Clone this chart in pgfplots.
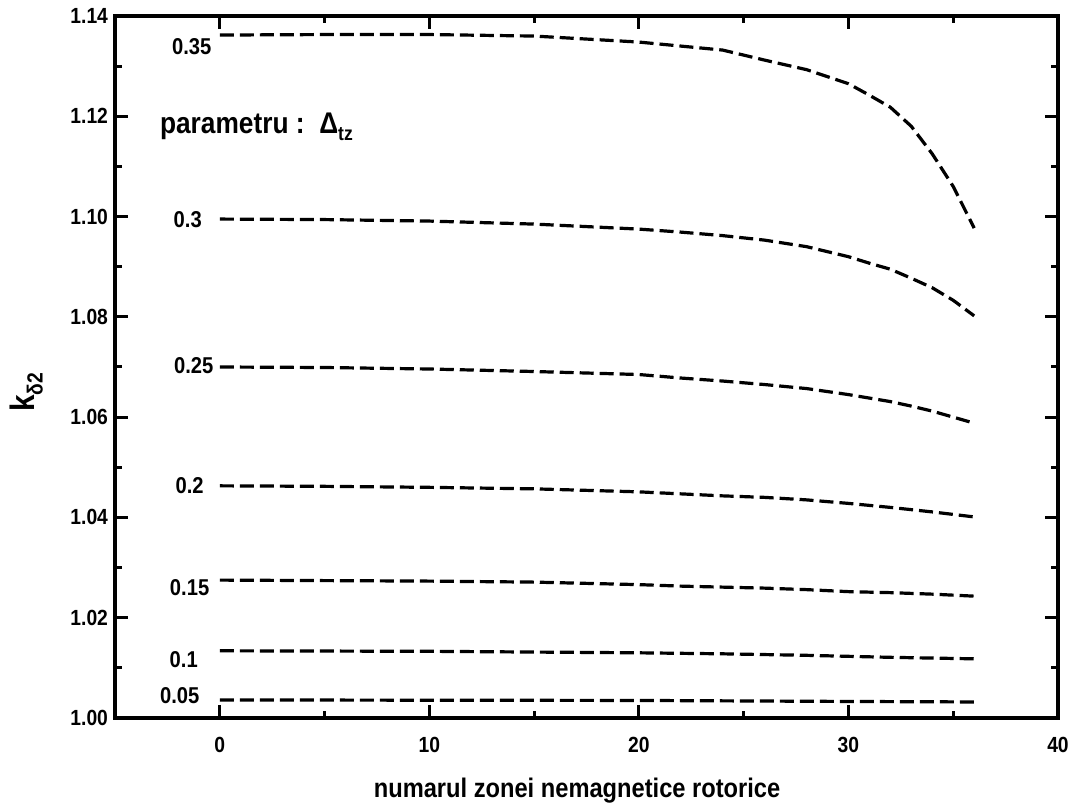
\documentclass[border=0pt]{standalone}
\usepackage{fontspec}
\setmainfont{Liberation Sans}[FakeStretch=0.88]
\usepackage{pgfplots}
\pgfplotsset{compat=1.18}

\begin{document}
\begin{tikzpicture}
\begin{axis}[
  width=471.5bp, height=351bp, scale only axis,
  xmin=-5, xmax=40, ymin=1.00, ymax=1.14,
  xtick={0,10,20,30,40}, minor x tick num=1,
  ytick={1.00,1.02,1.04,1.06,1.08,1.10,1.12,1.14}, minor y tick num=1,
  tick align=inside,
  major tick length=6.5bp, minor tick length=3.5bp,
  axis line style={line width=2bp},
  every tick/.style={line width=1.5bp, black},
  /pgf/number format/assume math mode=true,
  yticklabel style={/pgf/number format/.cd, fixed, fixed zerofill, precision=2},
  xticklabel style={yshift=-6bp},
  ticklabel style={font=\bfseries\fontsize{11}{13}\selectfont},
  clip=false,
  every axis plot post/.append style={black, mark=none, line width=1.6bp,
    dash pattern=on 7bp off 3bp},
]
% parametru 0.35
\addplot coordinates {(0,1.1362) (5,1.1363) (10,1.1363) (15,1.1360) (20,1.1348) (22,1.1340)
 (24,1.1332) (26,1.1312) (28,1.1293) (30,1.1265) (31,1.1242) (32,1.1218) (33,1.1180)
 (34,1.1125) (35,1.1060) (36,1.0977)};
% parametru 0.3
\addplot coordinates {(0,1.0995) (5,1.0994) (10,1.0991) (15,1.0985) (20,1.0975) (22,1.0969)
 (24,1.0962) (26,1.0953) (28,1.0940) (30,1.0920) (31,1.0907) (32,1.0895) (33,1.0877)
 (34,1.0858) (35,1.0833) (36,1.0802)};
% parametru 0.25
\addplot coordinates {(0,1.0700) (5,1.0699) (10,1.0696) (15,1.0691) (20,1.0685) (22,1.0678)
 (24,1.0672) (26,1.0665) (28,1.0657) (30,1.0645) (31,1.0638) (32,1.0631) (33,1.0622)
 (34,1.0612) (35,1.0600) (36,1.0588)};
% parametru 0.2
\addplot coordinates {(0,1.0463) (5,1.0462) (10,1.0460) (15,1.0457) (20,1.0451) (22,1.0447)
 (24,1.0443) (26,1.0440) (28,1.0435) (30,1.0428) (32,1.0420) (34,1.0411) (36,1.0401)};
% parametru 0.15
\addplot coordinates {(0,1.0275) (10,1.0273) (15,1.0271) (20,1.0266) (22,1.0263) (24,1.0261)
 (26,1.0259) (28,1.0256) (30,1.0252) (32,1.0250) (34,1.0247) (36,1.0243)};
% parametru 0.1
\addplot coordinates {(0,1.0134) (10,1.0133) (20,1.0130) (24,1.0128) (28,1.0125) (32,1.0121) (36,1.0118)};
% parametru 0.05
\addplot coordinates {(0,1.0036) (20,1.0035) (30,1.0033) (36,1.0032)};

\begin{scope}[every node/.style={font=\bfseries\fontsize{11.5}{13}\selectfont, inner sep=0pt}]
\node at (axis cs:-1.34,1.1338) {0.35};
\node at (axis cs:-1.53,1.0993) {0.3};
\node at (axis cs:-1.24,1.0702) {0.25};
\node at (axis cs:-1.44,1.0463) {0.2};
\node at (axis cs:-1.44,1.0261) {0.15};
\node at (axis cs:-1.72,1.0116) {0.1};
\node at (axis cs:-1.91,1.0044) {0.05};
\end{scope}
\node[anchor=west, inner sep=0pt, font=\bfseries\fontsize{15}{17}\selectfont] at (axis cs:-2.87,1.1179)
  {parametru :\ \ Δ\raisebox{-0.45ex}{\fontsize{10}{11}\selectfont tz}};
\node[rotate=90, font=\bfseries\fontsize{17}{19}\selectfont, inner sep=0pt] at (axis description cs:-0.094,0.464)
  {k\raisebox{-0.45ex}{\fontsize{11}{12}\selectfont δ2}};
\node[font=\bfseries\fontsize{13.5}{15}\selectfont, inner sep=0pt] at (axis description cs:0.49,-0.104)
  {numarul zonei nemagnetice rotorice};
\end{axis}
\pgfresetboundingbox
\path[use as bounding box] ([xshift=-57.5bp, yshift=-46.5bp]current axis.south west)
  rectangle ([xshift=8bp, yshift=8bp]current axis.north east);
\end{tikzpicture}
\end{document}
